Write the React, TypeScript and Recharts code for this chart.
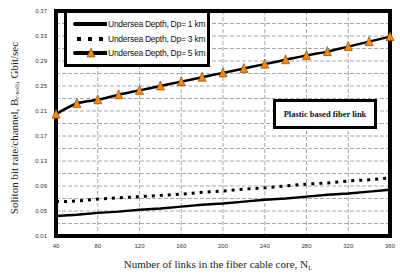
import React from 'react';
import {
  LineChart,
  Line,
  XAxis,
  YAxis,
  CartesianGrid,
  ReferenceArea,
  Label,
} from 'recharts';

// links in the fiber cable core
const linkCounts = [40, 60, 80, 100, 120, 140, 160, 180, 200, 220, 240, 260, 280, 300, 320, 340, 360];

// soliton bit rate per channel, Gbit/sec
const dp1km = [0.042, 0.044, 0.047, 0.049, 0.052, 0.054, 0.057, 0.06, 0.062, 0.065, 0.068, 0.07, 0.073, 0.076, 0.078, 0.081, 0.084];
const dp3km = [0.065, 0.066, 0.069, 0.071, 0.073, 0.075, 0.077, 0.08, 0.082, 0.085, 0.087, 0.09, 0.093, 0.095, 0.098, 0.1, 0.103];
const dp5km = [0.205, 0.222, 0.228, 0.236, 0.243, 0.25, 0.257, 0.264, 0.271, 0.278, 0.285, 0.292, 0.299, 0.305, 0.313, 0.321, 0.329];

const xTicks = [40, 80, 120, 160, 200, 240, 280, 320, 360];
// every 0.02 gets a grid line, every 0.04 a label
const yTicks = [0.01, 0.03, 0.05, 0.07, 0.09, 0.11, 0.13, 0.15, 0.17, 0.19, 0.21, 0.23, 0.25, 0.27, 0.29, 0.31, 0.33, 0.35, 0.37];

const seriesNames = ['Undersea Depth, Dp= 1 km', 'Undersea Depth, Dp= 3 km', 'Undersea Depth, Dp= 5 km'];

const data = linkCounts.map((n, i) => ({
  n,
  dp1: dp1km[i],
  dp3: dp3km[i],
  dp5: dp5km[i],
}));

const ORANGE = '#f28a12';

const Triangle = (props: any) => {
  const { cx, cy } = props;
  if (cx == null || cy == null) return null;
  return (
    <path
      d={`M${cx},${cy - 5} L${cx + 4},${cy + 4} L${cx - 4},${cy + 4} Z`}
      fill={ORANGE}
      stroke="#7a3a00"
      strokeWidth={0.6}
    />
  );
};

const LegendBox = () => (
  <div
    style={{
      position: 'absolute',
      left: 64,
      top: 10,
      width: 140,
      height: 51,
      border: '3px solid #000',
      background: '#fff',
      fontFamily: 'Arial, "Liberation Sans", sans-serif',
      fontSize: 8.5,
      color: '#111',
      overflow: 'hidden',
    }}
  >
    {seriesNames.map((name, i) => (
      <div key={name} style={{ display: 'flex', alignItems: 'center', height: 14.5, marginTop: i === 0 ? 4 : 0 }}>
        <svg width={40} height={12} style={{ flex: 'none' }}>
          {i === 0 && <line x1={8} x2={40} y1={6} y2={6} stroke="#000" strokeWidth={4} strokeLinecap="round" />}
          {i === 1 && <line x1={10} x2={40} y1={6} y2={6} stroke="#000" strokeWidth={4} strokeDasharray="4 7" />}
          {i === 2 && (
            <>
              <line x1={8} x2={40} y1={6} y2={6} stroke="#000" strokeWidth={4} strokeLinecap="round" />
              <path d="M24,1 L28,10 L20,10 Z" fill={ORANGE} stroke="#7a3a00" strokeWidth={0.6} />
            </>
          )}
        </svg>
        <span style={{ whiteSpace: 'nowrap', letterSpacing: -0.25, marginLeft: 1 }}>{name}</span>
      </div>
    ))}
  </div>
);

const YTitle = () => {
  const cx = 14;
  const cy = 128;
  return (
    <text
      x={cx}
      y={cy}
      transform={`rotate(-90 ${cx} ${cy})`}
      textAnchor="middle"
      dominantBaseline="central"
      fontFamily='"Times New Roman", "Liberation Serif", serif'
      fontSize={11}
      fill="#222"
    >
      Soliton bit rate/channel, B
      <tspan fontSize={7} dy={3}>r-soli</tspan>
      <tspan dy={-3}>, Gbit/sec</tspan>
    </text>
  );
};

const XTitle = () => (
  <text
    x={218}
    y={268}
    textAnchor="middle"
    fontFamily='"Times New Roman", "Liberation Serif", serif'
    fontSize={11}
    fill="#222"
  >
    Number of links in the fiber cable core, N
    <tspan fontSize={7} dy={2}>L</tspan>
  </text>
);

const tickStyle = { fontSize: 6, fill: '#333', fontFamily: 'Arial, "Liberation Sans", sans-serif' };

export default function App() {
  return (
    <div style={{ position: 'absolute', left: 0, top: 0, width: 400, height: 278, background: '#fff' }}>
      <LineChart width={400} height={278} data={data} margin={{ top: 11, right: 10, bottom: 20, left: 10 }}>
        <CartesianGrid stroke="#a8a8a8" strokeDasharray="4 2" />
        <XAxis
          dataKey="n"
          type="number"
          domain={[40, 360]}
          ticks={xTicks}
          height={22}
          axisLine={false}
          tickLine={false}
          tick={tickStyle}
          tickMargin={2}
        >
          <Label content={<XTitle />} />
        </XAxis>
        <YAxis
          type="number"
          domain={[0.01, 0.37]}
          ticks={yTicks}
          interval={0}
          width={46}
          axisLine={false}
          tickLine={false}
          tick={tickStyle}
          tickMargin={3}
          tickFormatter={(v: number) => (Math.round(v * 100) % 4 === 1 ? v.toFixed(2) : '')}
        >
          <Label content={<YTitle />} />
        </YAxis>
        <Line
          dataKey="dp1"
          name={seriesNames[0]}
          type="linear"
          stroke="#000"
          strokeWidth={2.5}
          dot={false}
          isAnimationActive={false}
        />
        <Line
          dataKey="dp3"
          name={seriesNames[1]}
          type="monotone"
          stroke="#000"
          strokeWidth={3}
          strokeDasharray="3 5"
          dot={false}
          isAnimationActive={false}
        />
        <Line
          dataKey="dp5"
          name={seriesNames[2]}
          type="monotone"
          stroke="#000"
          strokeWidth={2.5}
          dot={<Triangle />}
          isAnimationActive={false}
        />
        <ReferenceArea x1={40} x2={360} y1={0.01} y2={0.37} fill="none" stroke="#000" strokeWidth={4} ifOverflow="visible" />
      </LineChart>
      <LegendBox />
      <div
        style={{
          position: 'absolute',
          left: 273,
          top: 99,
          width: 98,
          height: 24,
          border: '3px solid #000',
          background: '#fff',
          display: 'flex',
          alignItems: 'center',
          justifyContent: 'center',
          fontFamily: '"Times New Roman", "Liberation Serif", serif',
          fontWeight: 'bold',
          fontSize: 8.5,
          color: '#111',
          whiteSpace: 'nowrap',
        }}
      >
        Plastic based fiber link
      </div>
    </div>
  );
}
